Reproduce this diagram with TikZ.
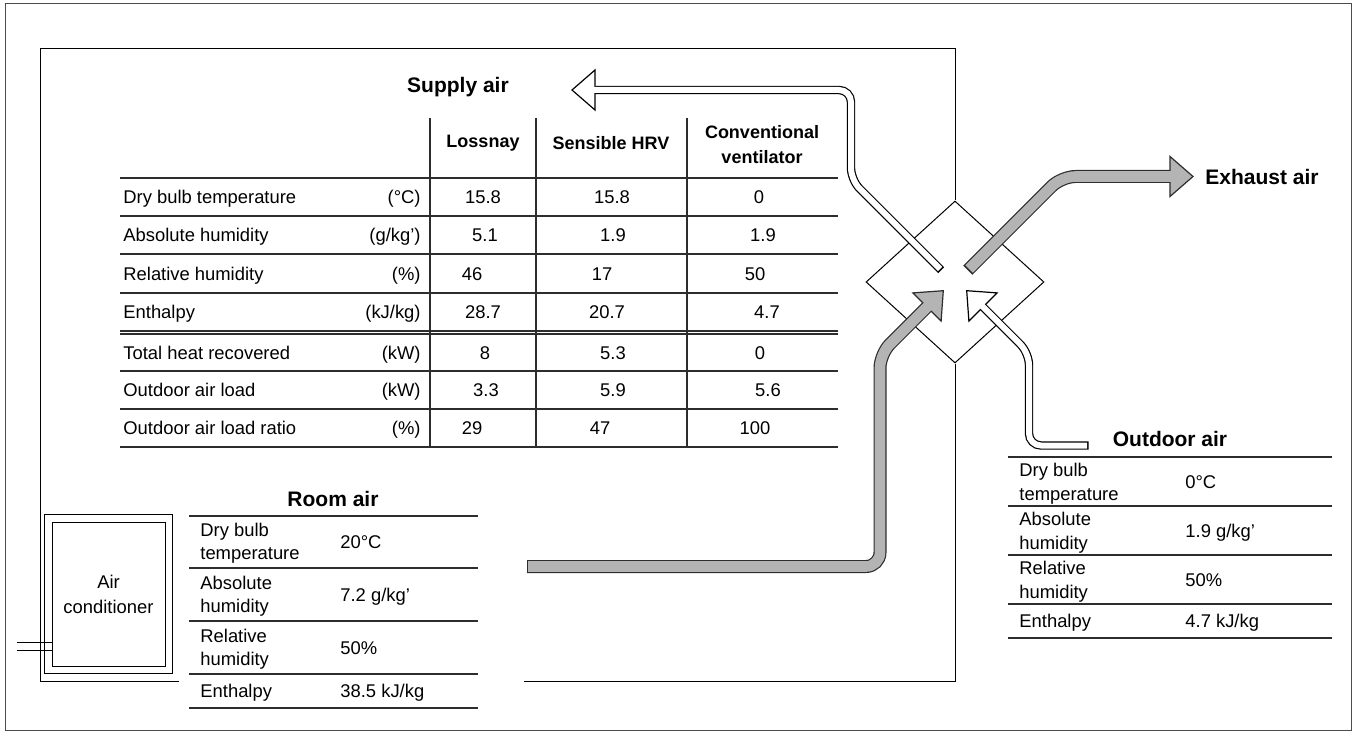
\documentclass[tikz,border=0pt]{standalone}
\usepackage{fontspec}
\setmainfont{Liberation Sans}
\usepackage{tikz}
\usetikzlibrary{shapes.geometric}

\definecolor{airgray}{RGB}{180,180,180}
\definecolor{edgegray}{RGB}{45,45,45}

\begin{document}
\begin{tikzpicture}[x=0.5pt, y=-0.5pt,
    txt/.style={inner sep=0pt, font=\fontsize{9.2}{11.5}\selectfont, text height=6.6pt, text depth=0pt},
    twoline/.style={inner sep=0pt, align=left, font=\fontsize{9.2}{#1}\selectfont},
    title/.style={inner sep=0pt, font=\fontsize{10.5}{12}\selectfont\bfseries},
    colhead/.style={inner sep=0pt, align=center, font=\fontsize{9}{12.5}\selectfont\bfseries},
    rule/.style={line width=0.7pt, draw=edgegray},
    wall/.style={line width=0.5pt},
    grayout/.style={line width=6.5pt, draw=edgegray, rounded corners=7pt},
    grayin/.style={line width=5.3pt, draw=airgray, rounded corners=7pt},
    whiteout/.style={line width=4.2pt, draw=black, rounded corners=6pt},
    whitein/.style={line width=3pt, draw=white, rounded corners=6pt},
    grayhead/.style={fill=airgray, draw=edgegray, line width=0.6pt, line join=miter},
    whitehead/.style={fill=white, draw=black, line width=0.6pt, line join=miter}
  ]
    \useasboundingbox (0,0) rectangle (1356,733);
    \draw[line width=0.5pt, draw=black!70] (5,4) rectangle (1351,730);

    % Heat exchanger core and room walls
    \node[diamond, draw, line width=0.5pt, minimum width=89pt, minimum height=81pt, inner sep=0pt] (hrv) at (955,282) {};
    \draw[wall] (179,681) -- (40,681) -- (40,49) -- (955,49) -- (hrv.north);
    \draw[wall] (hrv.south) -- (955,681) -- (524,681);

    % Air conditioner
    \draw[wall] (44,514) rectangle (172,673);
    \node[draw, line width=0.5pt, minimum width=56.5pt, minimum height=72pt, inner sep=0pt,
      align=center, font=\fontsize{9.2}{12.5}\selectfont] (ac) at (108.5,594) {Air\\conditioner};
    \coordinate (pipeA) at (17,642);
    \coordinate (pipeB) at (17,650);
    \draw[wall] (pipeA) -- (pipeA -| ac.west);
    \draw[wall] (pipeB) -- (pipeB -| ac.west);

    % Supply air table
    \node[title] (supply) at (458,87) {Supply air};
    \foreach \y in {178,216,254,293,331,334,371,409,447}
      \draw[rule] (120,\y) -- (838,\y);
    \foreach \x in {430,536,687}
      \draw[rule] (\x,118) -- (\x,447);
    \node[colhead] (loss) at (483,143) {Lossnay};
    \node[colhead] (shrv) at (611,143) {Sensible HRV};
    \node[colhead] (conv) at (762,145) {Conventional\\ventilator};
    \foreach \lab/\unit/\a/\xa/\b/\xb/\c/\xc/\y [count=\i] in {
        {Dry bulb temperature}/{(°C)}/15.8/483/15.8/612/0/759/197,
        {Absolute humidity}/{(g/kg’)}/5.1/485/1.9/613/1.9/763/235,
        {Relative humidity}/{(\%)}/46/472/17/602/50/755/273.5,
        {Enthalpy}/{(kJ/kg)}/28.7/483/20.7/607/4.7/767/312,
        {Total heat recovered}/{(kW)}/8/485/5.3/613/0/760/352.5,
        {Outdoor air load}/{(kW)}/3.3/486/5.9/613/5.6/768/390,
        {Outdoor air load ratio}/{(\%)}/29/472/47/600/100/755/428} {
      \node[txt, anchor=west] (lab\i) at (123,\y) {\lab};
      \node[txt, anchor=east] (unit\i) at (421,\y) {\unit};
      \node[txt] (va\i) at (\xa,\y) {\a};
      \node[txt] (vb\i) at (\xb,\y) {\b};
      \node[txt] (vc\i) at (\xc,\y) {\c};
    }

    % Room air table
    \node[title] (room) at (333,499) {Room air};
    \foreach \y in {516,568,621,674,708}
      \draw[rule] (189,\y) -- (478,\y);
    \node[twoline=11.5, anchor=west] (rlab1) at (200,543) {Dry bulb\\temperature};
    \node[twoline=11.5, anchor=west] (rlab2) at (200,596) {Absolute\\humidity};
    \node[twoline=11.5, anchor=west] (rlab3) at (200,649) {Relative\\humidity};
    \node[txt, anchor=west] (rlab4) at (200,691) {Enthalpy};
    \node[txt, anchor=west] (rval1) at (340,542) {20°C};
    \node[txt, anchor=west] (rval2) at (340,594.5) {7.2 g/kg’};
    \node[txt, anchor=west] (rval3) at (340,647.5) {50\%};
    \node[txt, anchor=west] (rval4) at (340,691) {38.5 kJ/kg};

    % Outdoor air table
    \node[title] (outdoor) at (1170,439) {Outdoor air};
    \foreach \y in {457,506,555,604,638}
      \draw[rule] (1008,\y) -- (1332,\y);
    \node[twoline=12, anchor=west] (olab1) at (1019,484) {Dry bulb\\temperature};
    \node[twoline=12, anchor=west] (olab2) at (1019,533) {Absolute\\humidity};
    \node[twoline=12, anchor=west] (olab3) at (1019,582) {Relative\\humidity};
    \node[txt, anchor=west] (olab4) at (1019,621) {Enthalpy};
    \node[txt, anchor=west] (oval1) at (1185,481.5) {0°C};
    \node[txt, anchor=west] (oval2) at (1185,530.5) {1.9 g/kg’};
    \node[txt, anchor=west] (oval3) at (1185,579.5) {50\%};
    \node[txt, anchor=west] (oval4) at (1185,621) {4.7 kJ/kg};

    % Supply air stream
    \coordinate (supA) at (941.2,270.2);
    \coordinate (supB) at (940,269);
    \coordinate (supC) at (851,180);
    \coordinate (supD) at (851,90);
    \coordinate (supE) at (595,90);
    \coordinate (supF) at (593,90);
    \draw[whiteout] (supA) -- (supC) -- (supD) -- (supE);
    \draw[whitehead] (572,90) -- (595,70) -- (595,110) -- cycle;
    \draw[whitein] (supB) -- (supC) -- (supD) -- (supF);

    % Exhaust air stream
    \coordinate (exhA) at (967.8,270.2);
    \coordinate (exhB) at (969,269);
    \coordinate (exhC) at (1061.5,176.5);
    \coordinate (exhD) at (1170,176.5);
    \coordinate (exhE) at (1172,176.5);
    \draw[grayout] (exhA) -- (exhC) -- (exhD);
    \draw[grayhead] (1193,176.5) -- (1170,156.5) -- (1170,196.5) -- cycle;
    \draw[grayin] (exhB) -- (exhC) -- (exhD) -- (exhE);
    \node[title, anchor=west] (exhaust) at (1205,177) {Exhaust air};

    % Room air stream
    \coordinate (rmA) at (527,566.5);
    \coordinate (rmB) at (528,566.5);
    \coordinate (rmC) at (880,566.5);
    \coordinate (rmD) at (880,354);
    \coordinate (rmE) at (927,307);
    \coordinate (rmF) at (928.5,305.5);
    \draw[grayout] (rmA) -- (rmC) -- (rmD) -- (rmE);
    \draw[grayhead] (943.3,290.7) -- (912.9,292.9) -- (941.1,321.1) -- cycle;
    \draw[grayin] (rmB) -- (rmC) -- (rmD) -- (rmF);

    % Outdoor air stream
    \coordinate (odA) at (1088.5,445.5);
    \coordinate (odB) at (1087,445.5);
    \coordinate (odC) at (1029,445.5);
    \coordinate (odD) at (1029,353);
    \coordinate (odE) at (983,307);
    \coordinate (odF) at (981.5,305.5);
    \draw[whiteout] (odA) -- (odC) -- (odD) -- (odE);
    \draw[whitehead] (966.7,290.7) -- (997.1,292.9) -- (968.9,321.1) -- cycle;
    \draw[whitein] (odB) -- (odC) -- (odD) -- (odF);
\end{tikzpicture}
\end{document}
